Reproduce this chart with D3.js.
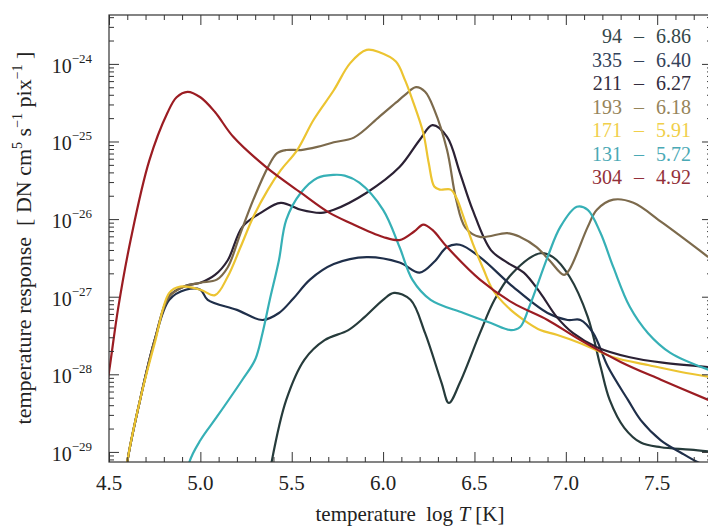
<!DOCTYPE html>
<html>
<head>
<meta charset="utf-8">
<script src="https://cdn.jsdelivr.net/npm/d3@7/dist/d3.min.js"></script>
<style>
body { margin: 0; background: #fff; }
svg text { font-family: "Liberation Serif", "Times New Roman", "DejaVu Serif", serif; fill: #222; }
</style>
</head>
<body>
<svg id="chart"></svg>
<script>
// log T and log10 of the temperature response for each channel
const t94  = [5.36, 5.39, 5.47, 5.57, 5.68, 5.81, 5.90, 6.00, 6.06, 6.15, 6.23, 6.32, 6.36, 6.42, 6.53, 6.61, 6.71, 6.86, 6.93, 7.02, 7.12, 7.19, 7.24, 7.32, 7.41, 7.52, 7.68, 7.80];
const r94  = [-29.6, -29.13, -28.33, -27.81, -27.56, -27.43, -27.26, -27.04, -26.95, -27.04, -27.47, -28.11, -28.37, -28.11, -27.47, -27.04, -26.69, -26.44, -26.49, -26.74, -27.26, -27.9, -28.33, -28.69, -28.88, -28.94, -28.97, -29.0];

const t335 = [4.58, 4.60, 4.67, 4.75, 4.83, 4.92, 5.00, 5.04, 5.20, 5.34, 5.43, 5.51, 5.60, 5.73, 5.91, 6.09, 6.20, 6.28, 6.35, 6.42, 6.53, 6.71, 6.90, 7.01, 7.08, 7.15, 7.23, 7.34, 7.41, 7.52, 7.63, 7.72, 7.82];
const r335 = [-29.6, -29.13, -28.33, -27.56, -27.04, -26.91, -26.91, -27.04, -27.17, -27.30, -27.21, -27.02, -26.78, -26.58, -26.49, -26.56, -26.69, -26.55, -26.36, -26.33, -26.49, -26.87, -27.21, -27.30, -27.30, -27.47, -27.9, -28.33, -28.59, -28.85, -29.01, -29.13, -29.23];

const t211 = [4.58, 4.60, 4.67, 4.75, 4.83, 4.92, 5.00, 5.08, 5.15, 5.23, 5.33, 5.44, 5.55, 5.66, 5.73, 5.91, 6.09, 6.20, 6.27, 6.35, 6.42, 6.49, 6.59, 6.68, 6.77, 6.86, 6.95, 7.04, 7.17, 7.35, 7.53, 7.80];
const r211 = [-29.6, -29.13, -28.33, -27.56, -26.99, -26.86, -26.82, -26.72, -26.53, -26.10, -25.92, -25.79, -25.88, -25.92, -25.88, -25.66, -25.33, -24.98, -24.79, -24.94, -25.40, -25.88, -26.40, -26.56, -26.69, -26.95, -27.26, -27.47, -27.65, -27.78, -27.85, -27.91];

const t193 = [4.58, 4.60, 4.67, 4.75, 4.83, 4.91, 5.00, 5.09, 5.15, 5.22, 5.29, 5.37, 5.42, 5.47, 5.55, 5.64, 5.73, 5.84, 5.98, 6.07, 6.12, 6.18, 6.23, 6.28, 6.35, 6.40, 6.45, 6.53, 6.68, 6.75, 6.84, 6.91, 6.99, 7.02, 7.12, 7.17, 7.26, 7.37, 7.53, 7.78];
const r193 = [-29.6, -29.13, -28.33, -27.56, -27.0, -26.87, -26.82, -26.78, -26.62, -26.18, -25.75, -25.33, -25.15, -25.11, -25.11, -25.07, -25.01, -24.95, -24.68, -24.50, -24.40, -24.30, -24.36, -24.59, -25.11, -25.75, -26.11, -26.23, -26.18, -26.23, -26.36, -26.53, -26.72, -26.65, -26.10, -25.88, -25.75, -25.79, -26.05, -26.49];

const t171 = [4.58, 4.60, 4.67, 4.75, 4.83, 4.89, 5.00, 5.08, 5.15, 5.22, 5.29, 5.37, 5.44, 5.53, 5.62, 5.73, 5.82, 5.91, 5.98, 6.07, 6.12, 6.16, 6.22, 6.25, 6.28, 6.31, 6.37, 6.40, 6.44, 6.49, 6.55, 6.60, 6.68, 6.77, 6.86, 6.95, 7.08, 7.26, 7.45, 7.63, 7.78];
const r171 = [-29.6, -29.13, -28.33, -27.6, -26.95, -26.87, -26.91, -26.98, -26.74, -26.36, -25.97, -25.62, -25.37, -25.11, -24.72, -24.34, -23.99, -23.82, -23.85, -23.97, -24.21, -24.46, -24.89, -25.28, -25.58, -25.62, -25.62, -25.72, -25.97, -26.31, -26.65, -26.91, -27.13, -27.30, -27.43, -27.49, -27.60, -27.78, -27.88, -27.97, -28.03];

const t131 = [4.91, 4.94, 5.00, 5.09, 5.23, 5.30, 5.34, 5.38, 5.43, 5.47, 5.55, 5.64, 5.73, 5.79, 5.87, 6.00, 6.09, 6.16, 6.26, 6.44, 6.59, 6.70, 6.75, 6.80, 6.90, 6.97, 7.06, 7.12, 7.19, 7.26, 7.35, 7.45, 7.57, 7.78];
const r131 = [-29.6, -29.13, -28.85, -28.55, -28.07, -27.81, -27.47, -27.04, -26.53, -26.01, -25.66, -25.47, -25.43, -25.44, -25.53, -25.88, -26.36, -26.78, -27.04, -27.21, -27.34, -27.43, -27.39, -27.13, -26.49, -26.10, -25.84, -25.88, -26.18, -26.62, -27.13, -27.47, -27.72, -27.94];

const t304 = [4.45, 4.50, 4.55, 4.62, 4.72, 4.82, 4.87, 4.93, 5.00, 5.08, 5.18, 5.36, 5.55, 5.70, 5.82, 6.00, 6.09, 6.17, 6.22, 6.27, 6.35, 6.53, 6.71, 6.90, 7.08, 7.30, 7.52, 7.78];
const r304 = [-28.7, -27.97, -27.15, -26.25, -25.25, -24.63, -24.43, -24.36, -24.43, -24.62, -24.94, -25.33, -25.66, -25.91, -26.05, -26.23, -26.27, -26.16, -26.07, -26.14, -26.36, -26.78, -27.08, -27.30, -27.56, -27.84, -28.07, -28.33];

// legend: channel and peak log T
const channels = ["94", "335", "211", "193", "171", "131", "304"];
const peakTemps = ["6.86", "6.40", "6.27", "6.18", "5.91", "5.72", "4.92"];
const colors = ["#263b3b", "#1f2f4a", "#2b2134", "#7c6a4c", "#ecc431", "#36b0b6", "#9b1c22"];
const legendColors = ["#34484a", "#33425a", "#332c3e", "#968459", "#f0cf4a", "#4aa9b5", "#93303a"];

const xTicks = [4.5, 5.0, 5.5, 6.0, 6.5, 7.0, 7.5];
const yDecades = [-29, -28, -27, -26, -25, -24];

const series = [
    {t: t94, r: r94}, {t: t335, r: r335}, {t: t211, r: r211}, {t: t193, r: r193},
    {t: t171, r: r171}, {t: t131, r: r131}, {t: t304, r: r304}
];

let svgWidth = 708, svgHeight = 527;
let plotLeft = 109, plotRight = 712, plotTop = 15, plotBottom = 462;

let svg = d3.select("#chart").attr("width", svgWidth).attr("height", svgHeight);

let x = d3.scaleLinear().domain([4.5, 7.8]).range([plotLeft, plotRight]);
let y = d3.scaleLog().domain([Math.pow(10, -29.13), Math.pow(10, -23.37)]).range([plotBottom, plotTop]);

svg.append("clipPath").attr("id", "plotclip")
    .append("rect").attr("x", plotLeft).attr("y", plotTop)
    .attr("width", plotRight - plotLeft).attr("height", plotBottom - plotTop);

// curves
let line = d3.line()
    .x(d => x(d[0]))
    .y(d => y(Math.pow(10, d[1])))
    .curve(d3.curveCatmullRom.alpha(0.5));

let g = svg.append("g").attr("clip-path", "url(#plotclip)");
series.forEach((s, i) => {
    g.append("path")
        .attr("fill", "none")
        .attr("stroke", colors[i])
        .attr("stroke-width", 2.2)
        .attr("stroke-linejoin", "round")
        .attr("d", line(s.t.map((v, j) => [v, s.r[j]])));
});

// axes, ticks pointing inward on all four sides
let xMinor = d3.range(45, 79).map(v => v / 10).filter(v => !xTicks.some(t => Math.abs(t - v) < 1e-6));
let yMajor = yDecades.map(d => Math.pow(10, d));
let yMinor = y.ticks().filter(v => Math.abs(Math.log10(v) - Math.round(Math.log10(v))) > 1e-6);

let styleAxis = function(sel) {
    sel.select(".domain").remove();
    sel.selectAll("line").attr("stroke", "#333").attr("stroke-width", 1);
};

svg.append("g").attr("transform", "translate(0," + plotBottom + ")")
    .call(d3.axisBottom(x).tickValues(xTicks).tickSize(-10).tickFormat("")).call(styleAxis);
svg.append("g").attr("transform", "translate(0," + plotBottom + ")")
    .call(d3.axisBottom(x).tickValues(xMinor).tickSize(-5).tickFormat("")).call(styleAxis);
svg.append("g").attr("transform", "translate(0," + plotTop + ")")
    .call(d3.axisTop(x).tickValues(xTicks).tickSize(-10).tickFormat("")).call(styleAxis);
svg.append("g").attr("transform", "translate(0," + plotTop + ")")
    .call(d3.axisTop(x).tickValues(xMinor).tickSize(-5).tickFormat("")).call(styleAxis);

svg.append("g").attr("transform", "translate(" + plotLeft + ",0)")
    .call(d3.axisLeft(y).tickValues(yMajor).tickSize(-10).tickFormat("")).call(styleAxis);
svg.append("g").attr("transform", "translate(" + plotLeft + ",0)")
    .call(d3.axisLeft(y).tickValues(yMinor).tickSize(-5).tickFormat("")).call(styleAxis);
svg.append("g").attr("transform", "translate(" + plotRight + ",0)")
    .call(d3.axisRight(y).tickValues(yMajor).tickSize(-10).tickFormat("")).call(styleAxis);
svg.append("g").attr("transform", "translate(" + plotRight + ",0)")
    .call(d3.axisRight(y).tickValues(yMinor).tickSize(-5).tickFormat("")).call(styleAxis);

// frame
svg.append("rect")
    .attr("x", plotLeft).attr("y", plotTop)
    .attr("width", plotRight - plotLeft).attr("height", plotBottom - plotTop)
    .attr("fill", "none").attr("stroke", "#333").attr("stroke-width", 1.2);

// tick labels
svg.append("g").selectAll("text")
    .data(xTicks).enter().append("text")
    .attr("x", d => x(d)).attr("y", 490)
    .attr("text-anchor", "middle")
    .attr("font-size", 21)
    .text(d => d.toFixed(1));

let yl = svg.append("g").selectAll("text")
    .data(yDecades).enter().append("text")
    .attr("x", 92).attr("y", d => y(Math.pow(10, d)) + 9)
    .attr("text-anchor", "end")
    .attr("font-size", 20);
yl.append("tspan").text("10");
yl.append("tspan").attr("dy", -10).attr("font-size", 13).text(d => "\u2212" + Math.abs(d));

// axis titles
let xt = svg.append("text")
    .attr("x", 410).attr("y", 521)
    .attr("text-anchor", "middle")
    .attr("font-size", 21);
xt.append("tspan").text("temperature\u00a0\u00a0log ");
xt.append("tspan").attr("font-style", "italic").text("T");
xt.append("tspan").text(" [K]");

let yt = svg.append("text")
    .attr("transform", "translate(31,238) rotate(-90)")
    .attr("text-anchor", "middle")
    .attr("font-size", 22);
yt.append("tspan").text("temperature response\u00a0\u00a0[ DN cm");
yt.append("tspan").attr("dy", -9).attr("font-size", 14).text("5");
yt.append("tspan").attr("dy", 9).text(" s");
yt.append("tspan").attr("dy", -9).attr("font-size", 14).text("\u22121");
yt.append("tspan").attr("dy", 9).text(" pix");
yt.append("tspan").attr("dy", -9).attr("font-size", 14).text("\u22121");
yt.append("tspan").attr("dy", 9).text(" ]");

// legend
let lg = svg.append("g").selectAll("g")
    .data(channels).enter().append("g")
    .attr("transform", (d, i) => "translate(0," + (43 + i * 23.5) + ")")
    .attr("font-size", 20);
lg.append("text").attr("x", 622).attr("text-anchor", "end")
    .style("fill", (d, i) => legendColors[i]).text(d => d);
lg.append("text").attr("x", 639).attr("text-anchor", "middle")
    .style("fill", (d, i) => legendColors[i]).text("\u2013");
lg.append("text").attr("x", 656).attr("text-anchor", "start")
    .style("fill", (d, i) => legendColors[i]).text((d, i) => peakTemps[i]);
</script>
</body>
</html>
